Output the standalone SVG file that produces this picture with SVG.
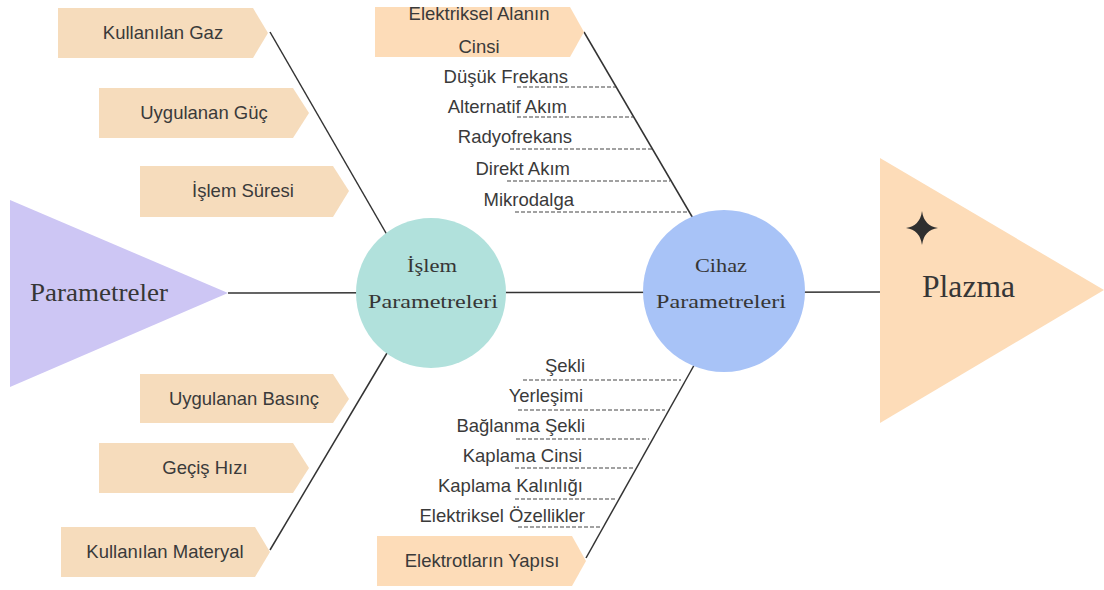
<svg xmlns="http://www.w3.org/2000/svg" width="1104" height="590" viewBox="0 0 1104 590">
<style>
.tag{fill:#f6dcbc}
.tag2{fill:#fddcb8}
.t{font-family:"Liberation Sans",Arial,sans-serif;font-size:18.5px;fill:#3a3a3a}
.s{font-family:"Liberation Serif","Times New Roman",serif;fill:#363636}
.ln{stroke:#333;stroke-width:1.5;fill:none}
.dl{stroke:#444;stroke-width:1.2;stroke-dasharray:4 2;fill:none}
</style>
<rect width="1104" height="590" fill="#ffffff"/>
<g id="connectors">
<line class="ln" x1="228" y1="293" x2="880" y2="292"/>
<line class="ln" x1="270" y1="32" x2="390" y2="240"/>
<line class="ln" x1="270" y1="550" x2="390" y2="348"/>
<line class="ln" x1="584" y1="32" x2="694" y2="220"/>
<line class="ln" x1="586" y1="558" x2="697" y2="360"/>
<line class="dl" x1="517" y1="87" x2="616" y2="87"/>
<line class="dl" x1="517" y1="117" x2="633" y2="117"/>
<line class="dl" x1="510" y1="149" x2="652" y2="149"/>
<line class="dl" x1="507" y1="181" x2="670" y2="181"/>
<line class="dl" x1="515" y1="212" x2="688" y2="212"/>
<line class="dl" x1="523" y1="380" x2="681" y2="380"/>
<line class="dl" x1="518" y1="410" x2="665" y2="410"/>
<line class="dl" x1="516" y1="439" x2="649" y2="439"/>
<line class="dl" x1="515" y1="468" x2="633" y2="468"/>
<line class="dl" x1="515" y1="499" x2="616" y2="499"/>
<line class="dl" x1="518" y1="527" x2="601" y2="527"/>
</g>
<g id="parametreler">
<polygon points="10,200 228,293 10,387" fill="#cdc6f4"/>
<text class="s" x="30" y="301" font-size="25" textLength="138" lengthAdjust="spacingAndGlyphs">Parametreler</text>
</g>
<g id="islem">
<circle cx="431" cy="293" r="75" fill="#b1e1dc"/>
<text class="s" x="432" y="272" font-size="19" text-anchor="middle" textLength="50" lengthAdjust="spacingAndGlyphs">İşlem</text>
<text class="s" x="433" y="308" font-size="19" text-anchor="middle" textLength="130" lengthAdjust="spacingAndGlyphs">Parametreleri</text>
</g>
<g id="cihaz">
<circle cx="724" cy="291" r="81" fill="#a8c3f7"/>
<text class="s" x="721" y="272" font-size="19" text-anchor="middle" textLength="52" lengthAdjust="spacingAndGlyphs">Cihaz</text>
<text class="s" x="721" y="308" font-size="19" text-anchor="middle" textLength="130" lengthAdjust="spacingAndGlyphs">Parametreleri</text>
</g>
<g id="plazma">
<polygon points="880,158 1104,290 880,423" fill="#fddcb8"/>
<path d="M922,211 Q924,226 938,228 Q924,230 922,245 Q920,230 906,228 Q920,226 922,211 Z" fill="#2f2f2f"/>
<text class="s" x="922" y="297" font-size="32" textLength="93" lengthAdjust="spacingAndGlyphs">Plazma</text>
</g>
<g id="kullanilan-gaz">
<polygon class="tag" points="58,8 253,8 268,33 253,58 58,58"/>
<text class="t" x="163" y="39" text-anchor="middle">Kullanılan Gaz</text>
</g>
<g id="uygulanan-guc">
<polygon class="tag" points="99,88 293,88 309,113 293,138 99,138"/>
<text class="t" x="204" y="119" text-anchor="middle">Uygulanan Güç</text>
</g>
<g id="islem-suresi">
<polygon class="tag" points="140,166 333,166 349,191 333,217 140,217"/>
<text class="t" x="243" y="197" text-anchor="middle">İşlem Süresi</text>
</g>
<g id="uygulanan-basinc">
<polygon class="tag" points="140,374 333,374 349,399 333,423 140,423"/>
<text class="t" x="244" y="405" text-anchor="middle">Uygulanan Basınç</text>
</g>
<g id="gecis-hizi">
<polygon class="tag" points="99,443 293,443 309,468 293,493 99,493"/>
<text class="t" x="205" y="474" text-anchor="middle">Geçiş Hızı</text>
</g>
<g id="kullanilan-materyal">
<polygon class="tag" points="61,527 255,527 270,552 255,577 61,577"/>
<text class="t" x="165" y="558" text-anchor="middle">Kullanılan Materyal</text>
</g>
<g id="elektriksel-alan">
<polygon class="tag2" points="375,7 570,7 584,32 570,57 375,57"/>
<text class="t" x="479" y="20" text-anchor="middle">Elektriksel Alanın</text>
<text class="t" x="479" y="53" text-anchor="middle">Cinsi</text>
</g>
<g id="elektriksel-alt" class="t" text-anchor="end">
<text x="568" y="83">Düşük Frekans</text>
<text x="567" y="113">Alternatif Akım</text>
<text x="572" y="143">Radyofrekans</text>
<text x="570" y="175">Direkt Akım</text>
<text x="574" y="206">Mikrodalga</text>
</g>
<g id="elektrot-alt" class="t" text-anchor="end">
<text x="585" y="372">Şekli</text>
<text x="583" y="402">Yerleşimi</text>
<text x="585" y="432">Bağlanma Şekli</text>
<text x="582" y="462">Kaplama Cinsi</text>
<text x="583" y="492">Kaplama Kalınlığı</text>
<text x="585" y="522">Elektriksel Özellikler</text>
</g>
<g id="elektrotlar">
<polygon class="tag2" points="377,536 572,536 586,561 572,586 377,586"/>
<text class="t" x="482" y="567" text-anchor="middle">Elektrotların Yapısı</text>
</g>
</svg>
